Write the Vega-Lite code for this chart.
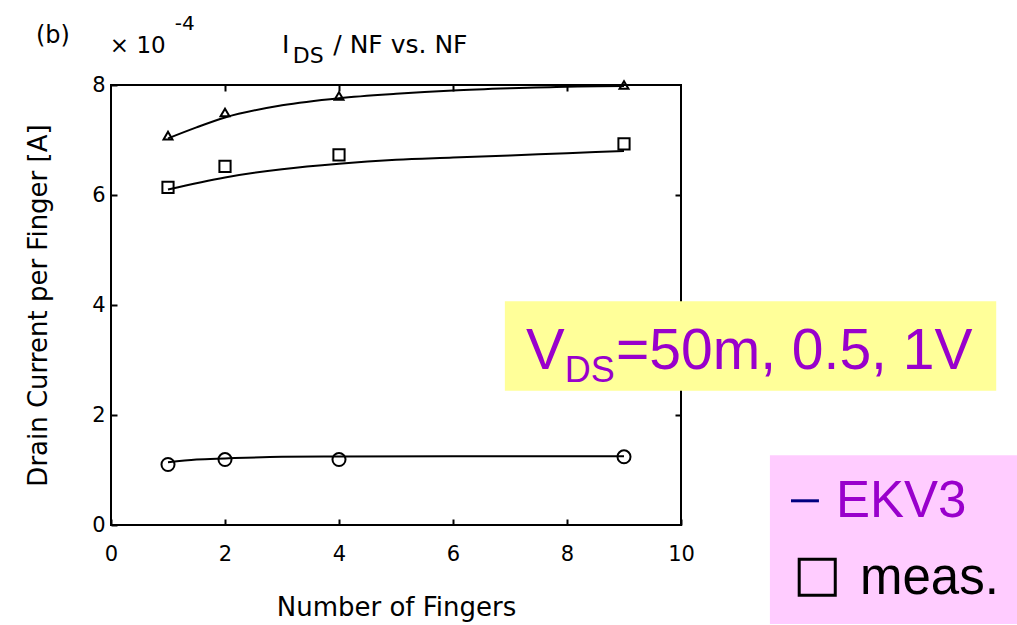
{
  "$schema": "https://vega.github.io/schema/vega-lite/v6.json",
  "width": 570,
  "height": 440,
  "autosize": "none",
  "padding": {"left": 111, "top": 85, "right": 336, "bottom": 100},
  "background": "white",
  "config": {
    "view": {"stroke": "black", "strokeWidth": 2},
    "font": "DejaVu Sans",
    "axis": {
      "domain": false,
      "grid": false,
      "tickColor": "black",
      "tickSize": -6,
      "tickWidth": 2,
      "labelFlush": false,
      "labelFont": "DejaVu Sans",
      "labelFontSize": 21,
      "labelColor": "black",
      "titleFont": "DejaVu Sans",
      "titleFontSize": 26,
      "titleFontWeight": "normal",
      "titleColor": "black"
    }
  },
  "datasets": {
    "ekv3": [
      {"series": "VDS=1V", "nf": 1, "ids": 7.03},
      {"series": "VDS=1V", "nf": 1.5, "ids": 7.23},
      {"series": "VDS=1V", "nf": 2, "ids": 7.41},
      {"series": "VDS=1V", "nf": 3, "ids": 7.63},
      {"series": "VDS=1V", "nf": 4, "ids": 7.76},
      {"series": "VDS=1V", "nf": 5, "ids": 7.84},
      {"series": "VDS=1V", "nf": 6, "ids": 7.9},
      {"series": "VDS=1V", "nf": 7, "ids": 7.94},
      {"series": "VDS=1V", "nf": 8, "ids": 7.97},
      {"series": "VDS=1V", "nf": 9, "ids": 7.98},
      {"series": "VDS=0.5V", "nf": 1, "ids": 6.1},
      {"series": "VDS=0.5V", "nf": 2, "ids": 6.32},
      {"series": "VDS=0.5V", "nf": 3, "ids": 6.47},
      {"series": "VDS=0.5V", "nf": 4, "ids": 6.57},
      {"series": "VDS=0.5V", "nf": 5, "ids": 6.64},
      {"series": "VDS=0.5V", "nf": 6, "ids": 6.68},
      {"series": "VDS=0.5V", "nf": 7, "ids": 6.72},
      {"series": "VDS=0.5V", "nf": 8, "ids": 6.76},
      {"series": "VDS=0.5V", "nf": 9, "ids": 6.8},
      {"series": "VDS=50mV", "nf": 1, "ids": 1.14},
      {"series": "VDS=50mV", "nf": 1.5, "ids": 1.19},
      {"series": "VDS=50mV", "nf": 2, "ids": 1.21},
      {"series": "VDS=50mV", "nf": 3, "ids": 1.24},
      {"series": "VDS=50mV", "nf": 4, "ids": 1.245},
      {"series": "VDS=50mV", "nf": 6, "ids": 1.25},
      {"series": "VDS=50mV", "nf": 9, "ids": 1.25}
    ],
    "meas": [
      {"series": "VDS=1V", "nf": 1, "ids": 7.08},
      {"series": "VDS=1V", "nf": 2, "ids": 7.5},
      {"series": "VDS=1V", "nf": 4, "ids": 7.8},
      {"series": "VDS=1V", "nf": 9, "ids": 8.0},
      {"series": "VDS=0.5V", "nf": 1, "ids": 6.14},
      {"series": "VDS=0.5V", "nf": 2, "ids": 6.52},
      {"series": "VDS=0.5V", "nf": 4, "ids": 6.73},
      {"series": "VDS=0.5V", "nf": 9, "ids": 6.93},
      {"series": "VDS=50mV", "nf": 1, "ids": 1.1},
      {"series": "VDS=50mV", "nf": 2, "ids": 1.19},
      {"series": "VDS=50mV", "nf": 4, "ids": 1.19},
      {"series": "VDS=50mV", "nf": 9, "ids": 1.24}
    ]
  },
  "resolve": {"axis": {"x": "independent", "y": "independent"}},
  "layer": [
    {
      "data": {"name": "ekv3"},
      "mark": {"type": "line", "color": "black", "strokeWidth": 2, "interpolate": "monotone"},
      "encoding": {
        "x": {"field": "nf", "type": "quantitative", "scale": {"domain": [0, 10], "nice": false},
              "axis": {"orient": "bottom", "values": [0, 2, 4, 6, 8, 10], "labelPadding": 24, "title": "Number of Fingers", "titlePadding": 30}},
        "y": {"field": "ids", "type": "quantitative", "scale": {"domain": [0, 8], "nice": false, "zero": false},
              "axis": {"orient": "left", "values": [0, 2, 4, 6, 8], "labelPadding": 12, "title": "Drain Current per Finger [A]", "titlePadding": 40}},
        "detail": {"field": "series"}
      }
    },
    {
      "data": {"name": "meas"},
      "mark": {"type": "point", "filled": false, "stroke": "black", "strokeWidth": 2, "opacity": 1},
      "encoding": {
        "x": {"field": "nf", "type": "quantitative", "scale": {"domain": [0, 10], "nice": false},
              "axis": {"orient": "top", "values": [2, 4, 6, 8], "labels": false, "title": null}},
        "y": {"field": "ids", "type": "quantitative", "scale": {"domain": [0, 8], "nice": false, "zero": false},
              "axis": {"orient": "right", "values": [2, 4, 6], "labels": false, "title": null}},
        "shape": {"field": "series", "type": "nominal", "legend": null,
                  "scale": {"domain": ["VDS=1V", "VDS=0.5V", "VDS=50mV"], "range": ["triangle-up", "square", "circle"]}},
        "size": {"field": "series", "type": "nominal", "legend": null,
                 "scale": {"domain": ["VDS=1V", "VDS=0.5V", "VDS=50mV"], "range": [80, 170, 90]}}
      }
    },
    {
      "data": {"values": [{}]},
      "mark": {"type": "rect", "color": "#FFFF99", "opacity": 1},
      "encoding": {
        "x": {"datum": 6.91, "type": "quantitative", "scale": {"domain": [0, 10], "nice": false}, "axis": null},
        "x2": {"datum": 15.53},
        "y": {"datum": 4.07, "type": "quantitative", "scale": {"domain": [0, 8], "nice": false, "zero": false}, "axis": null},
        "y2": {"datum": 2.44}
      }
    },
    {
      "data": {"values": [{}]},
      "mark": {"type": "text", "text": "V", "font": "Liberation Sans", "fontSize": 58, "color": "#9900CC", "align": "left", "baseline": "alphabetic"},
      "encoding": {
        "x": {"datum": 7.28, "type": "quantitative", "scale": {"domain": [0, 10], "nice": false}, "axis": null},
        "y": {"datum": 2.84, "type": "quantitative", "scale": {"domain": [0, 8], "nice": false, "zero": false}, "axis": null}
      }
    },
    {
      "data": {"values": [{}]},
      "mark": {"type": "text", "text": "DS", "font": "Liberation Sans", "fontSize": 36, "color": "#9900CC", "align": "left", "baseline": "alphabetic"},
      "encoding": {
        "x": {"datum": 7.96, "type": "quantitative", "scale": {"domain": [0, 10], "nice": false}, "axis": null},
        "y": {"datum": 2.6, "type": "quantitative", "scale": {"domain": [0, 8], "nice": false, "zero": false}, "axis": null}
      }
    },
    {
      "data": {"values": [{}]},
      "mark": {"type": "text", "text": "=50m, 0.5, 1V", "font": "Liberation Sans", "fontSize": 57, "color": "#9900CC", "align": "left", "baseline": "alphabetic"},
      "encoding": {
        "x": {"datum": 8.86, "type": "quantitative", "scale": {"domain": [0, 10], "nice": false}, "axis": null},
        "y": {"datum": 2.84, "type": "quantitative", "scale": {"domain": [0, 8], "nice": false, "zero": false}, "axis": null}
      }
    },
    {
      "data": {"values": [{}]},
      "mark": {"type": "rect", "color": "#FFCCFF", "opacity": 1},
      "encoding": {
        "x": {"datum": 11.56, "type": "quantitative", "scale": {"domain": [0, 10], "nice": false}, "axis": null},
        "x2": {"datum": 16},
        "y": {"datum": 1.27, "type": "quantitative", "scale": {"domain": [0, 8], "nice": false, "zero": false}, "axis": null},
        "y2": {"datum": -1.8}
      }
    },
    {
      "data": {"values": [{}]},
      "mark": {"type": "rule", "color": "#000080", "strokeWidth": 3},
      "encoding": {
        "x": {"datum": 11.93, "type": "quantitative", "scale": {"domain": [0, 10], "nice": false}, "axis": null},
        "x2": {"datum": 12.42},
        "y": {"datum": 0.44, "type": "quantitative", "scale": {"domain": [0, 8], "nice": false, "zero": false}, "axis": null}
      }
    },
    {
      "data": {"values": [{}]},
      "mark": {"type": "text", "text": "EKV3", "font": "Liberation Sans", "fontSize": 51, "color": "#9900CC", "align": "left", "baseline": "alphabetic"},
      "encoding": {
        "x": {"datum": 12.72, "type": "quantitative", "scale": {"domain": [0, 10], "nice": false}, "axis": null},
        "y": {"datum": 0.15, "type": "quantitative", "scale": {"domain": [0, 8], "nice": false, "zero": false}, "axis": null}
      }
    },
    {
      "data": {"values": [{}]},
      "mark": {"type": "point", "shape": "square", "size": 1300, "filled": false, "stroke": "black", "strokeWidth": 3, "opacity": 1},
      "encoding": {
        "x": {"datum": 12.39, "type": "quantitative", "scale": {"domain": [0, 10], "nice": false}, "axis": null},
        "y": {"datum": -0.95, "type": "quantitative", "scale": {"domain": [0, 8], "nice": false, "zero": false}, "axis": null}
      }
    },
    {
      "data": {"values": [{}]},
      "mark": {"type": "text", "text": "meas.", "font": "Liberation Sans", "fontSize": 51, "color": "black", "align": "left", "baseline": "alphabetic"},
      "encoding": {
        "x": {"datum": 13.14, "type": "quantitative", "scale": {"domain": [0, 10], "nice": false}, "axis": null},
        "y": {"datum": -1.26, "type": "quantitative", "scale": {"domain": [0, 8], "nice": false, "zero": false}, "axis": null}
      }
    },
    {
      "data": {"values": [{}]},
      "mark": {"type": "text", "text": "(b)", "font": "DejaVu Sans", "fontSize": 24, "color": "black", "align": "center", "baseline": "alphabetic"},
      "encoding": {
        "x": {"datum": -1.02, "type": "quantitative", "scale": {"domain": [0, 10], "nice": false}, "axis": null},
        "y": {"datum": 8.76, "type": "quantitative", "scale": {"domain": [0, 8], "nice": false, "zero": false}, "axis": null}
      }
    },
    {
      "data": {"values": [{}]},
      "mark": {"type": "text", "text": "× 10", "font": "DejaVu Sans", "fontSize": 23, "color": "black", "align": "left", "baseline": "alphabetic"},
      "encoding": {
        "x": {"datum": -0.02, "type": "quantitative", "scale": {"domain": [0, 10], "nice": false}, "axis": null},
        "y": {"datum": 8.58, "type": "quantitative", "scale": {"domain": [0, 8], "nice": false, "zero": false}, "axis": null}
      }
    },
    {
      "data": {"values": [{}]},
      "mark": {"type": "text", "text": "-4", "font": "DejaVu Sans", "fontSize": 20, "color": "black", "align": "left", "baseline": "alphabetic"},
      "encoding": {
        "x": {"datum": 1.12, "type": "quantitative", "scale": {"domain": [0, 10], "nice": false}, "axis": null},
        "y": {"datum": 9.0, "type": "quantitative", "scale": {"domain": [0, 8], "nice": false, "zero": false}, "axis": null}
      }
    },
    {
      "data": {"values": [{}]},
      "mark": {"type": "text", "text": "I", "font": "DejaVu Sans", "fontSize": 25, "color": "black", "align": "left", "baseline": "alphabetic"},
      "encoding": {
        "x": {"datum": 3.0, "type": "quantitative", "scale": {"domain": [0, 10], "nice": false}, "axis": null},
        "y": {"datum": 8.58, "type": "quantitative", "scale": {"domain": [0, 8], "nice": false, "zero": false}, "axis": null}
      }
    },
    {
      "data": {"values": [{}]},
      "mark": {"type": "text", "text": "DS", "font": "DejaVu Sans", "fontSize": 22, "color": "black", "align": "left", "baseline": "alphabetic"},
      "encoding": {
        "x": {"datum": 3.19, "type": "quantitative", "scale": {"domain": [0, 10], "nice": false}, "axis": null},
        "y": {"datum": 8.4, "type": "quantitative", "scale": {"domain": [0, 8], "nice": false, "zero": false}, "axis": null}
      }
    },
    {
      "data": {"values": [{}]},
      "mark": {"type": "text", "text": "/ NF vs. NF", "font": "DejaVu Sans", "fontSize": 25, "color": "black", "align": "left", "baseline": "alphabetic"},
      "encoding": {
        "x": {"datum": 3.9, "type": "quantitative", "scale": {"domain": [0, 10], "nice": false}, "axis": null},
        "y": {"datum": 8.58, "type": "quantitative", "scale": {"domain": [0, 8], "nice": false, "zero": false}, "axis": null}
      }
    }
  ]
}
